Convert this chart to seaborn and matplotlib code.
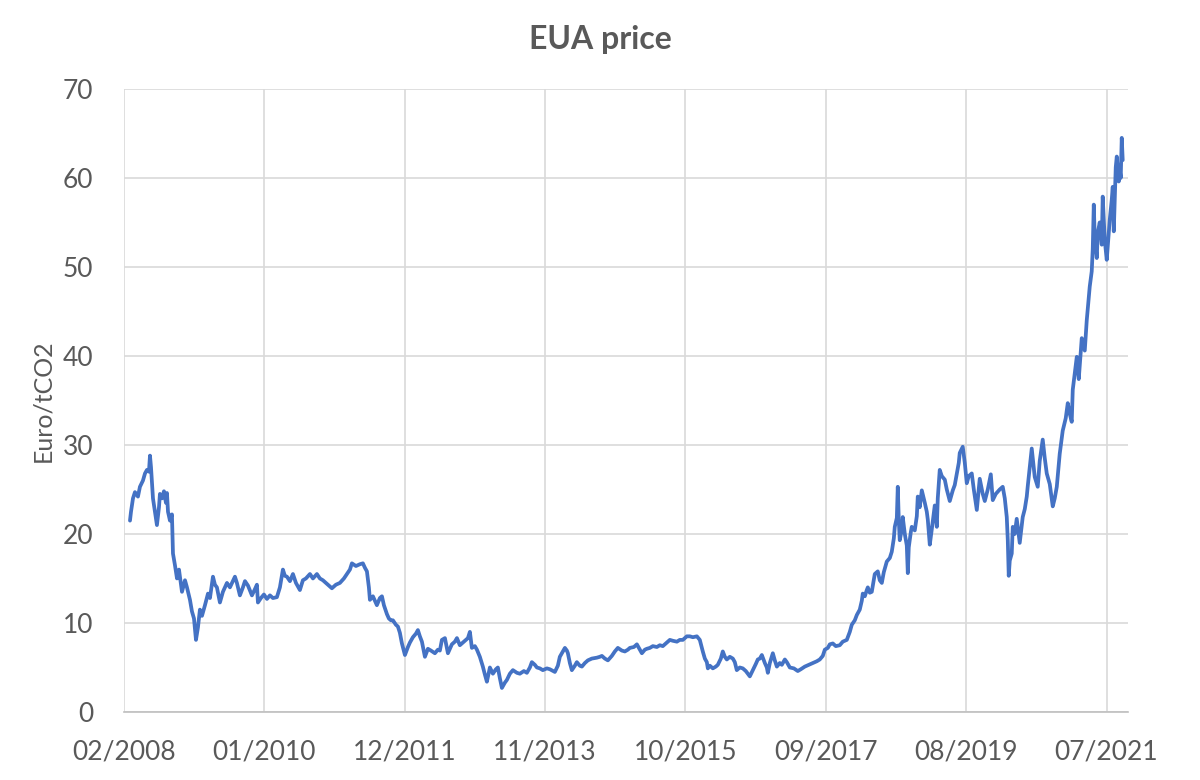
import pandas as pd
import matplotlib.pyplot as plt
import matplotlib.dates as mdates
import numpy as np
import seaborn as sns

# EUA price readings (decimal year, Euro/tCO2)
years_2008_2011 = [
    2008.167, 2008.181, 2008.208, 2008.235, 2008.276, 2008.303, 2008.344, 2008.372, 2008.399, 2008.426,
    2008.440, 2008.454, 2008.481, 2008.508, 2008.535, 2008.563, 2008.576, 2008.604, 2008.631, 2008.658,
    2008.672, 2008.686, 2008.713, 2008.740, 2008.754, 2008.781, 2008.809, 2008.836, 2008.877, 2008.918,
    2008.945, 2008.986, 2009.013, 2009.041, 2009.068, 2009.095, 2009.122, 2009.150, 2009.191, 2009.232,
    2009.259, 2009.300, 2009.327, 2009.354, 2009.395, 2009.436, 2009.491, 2009.532, 2009.600, 2009.627,
    2009.668, 2009.709, 2009.737, 2009.778, 2009.832, 2009.873, 2009.900, 2009.914, 2009.955, 2009.996,
    2010.037, 2010.078, 2010.119, 2010.173, 2010.214, 2010.255, 2010.282, 2010.310, 2010.351, 2010.392,
    2010.433, 2010.487, 2010.528, 2010.569, 2010.624, 2010.665, 2010.719, 2010.760, 2010.801, 2010.842,
    2010.883, 2010.924, 2010.979, 2011.033, 2011.088, 2011.129, 2011.170, 2011.197, 2011.252, 2011.306,
    2011.347, 2011.375, 2011.402, 2011.429, 2011.443, 2011.484, 2011.538, 2011.579, 2011.607, 2011.634,
    2011.675, 2011.702, 2011.730, 2011.757, 2011.798, 2011.825, 2011.852, 2011.880, 2011.921, 2011.962,
    2011.989,
]
prices_2008_2011 = [
    21.5, 22.5, 24.0, 24.7, 24.2, 25.3, 26.0, 26.8, 27.2, 27.0,
    28.8, 27.5, 24.0, 22.5, 21.0, 23.0, 24.5, 24.0, 24.8, 23.5,
    24.6, 22.5, 21.5, 22.2, 17.8, 16.5, 15.0, 16.0, 13.5, 14.8,
    14.0, 12.6, 11.3, 10.5, 8.1, 9.5, 11.5, 10.8, 12.0, 13.3,
    12.8, 15.2, 14.3, 14.0, 12.3, 13.5, 14.5, 14.0, 15.2, 14.5,
    13.1, 14.0, 14.7, 14.2, 13.1, 13.8, 14.3, 12.3, 12.8, 13.2,
    12.7, 13.1, 12.8, 12.9, 14.0, 16.0, 15.3, 15.2, 14.7, 15.5,
    14.5, 13.7, 14.8, 15.0, 15.5, 15.0, 15.5, 15.0, 14.8, 14.5,
    14.2, 13.9, 14.3, 14.5, 15.0, 15.5, 16.0, 16.7, 16.4, 16.6,
    16.7, 16.2, 15.8, 14.0, 12.6, 13.0, 12.0, 12.8, 13.0, 12.0,
    11.0, 10.5, 10.3, 10.3, 9.8, 9.6, 8.9, 7.7, 6.4, 7.3,
    7.8,
]

years_2012_2015 = [
    2012.030, 2012.071, 2012.098, 2012.125, 2012.153, 2012.194, 2012.235, 2012.276, 2012.330, 2012.371,
    2012.398, 2012.426, 2012.467, 2012.508, 2012.562, 2012.603, 2012.631, 2012.671, 2012.712, 2012.740,
    2012.781, 2012.808, 2012.835, 2012.876, 2012.904, 2012.944, 2012.985, 2013.013, 2013.040, 2013.081,
    2013.122, 2013.163, 2013.190, 2013.217, 2013.245, 2013.286, 2013.313, 2013.354, 2013.395, 2013.450,
    2013.490, 2013.545, 2013.586, 2013.627, 2013.654, 2013.695, 2013.723, 2013.763, 2013.804, 2013.859,
    2013.900, 2013.968, 2014.009, 2014.036, 2014.077, 2014.105, 2014.132, 2014.146, 2014.173, 2014.200,
    2014.241, 2014.268, 2014.309, 2014.337, 2014.378, 2014.419, 2014.473, 2014.541, 2014.582, 2014.610,
    2014.651, 2014.692, 2014.746, 2014.787, 2014.828, 2014.883, 2014.924, 2014.965, 2014.992, 2015.047,
    2015.088, 2015.128, 2015.156, 2015.197, 2015.224, 2015.265, 2015.306, 2015.361, 2015.401, 2015.442,
    2015.497, 2015.538, 2015.579, 2015.634, 2015.674, 2015.715, 2015.770, 2015.811, 2015.852, 2015.907,
    2015.947, 2015.988,
]
prices_2012_2015 = [
    8.4, 8.8, 9.2, 8.5, 7.9, 6.2, 7.1, 6.9, 6.6, 7.0,
    6.9, 8.1, 8.3, 6.6, 7.6, 7.9, 8.3, 7.5, 7.8, 8.0,
    8.3, 9.0, 7.2, 7.4, 7.0, 6.2, 5.1, 4.2, 3.4, 5.0,
    4.3, 4.8, 5.0, 3.8, 2.7, 3.3, 3.6, 4.3, 4.7, 4.4,
    4.3, 4.6, 4.4, 5.0, 5.6, 5.3, 5.0, 4.9, 4.7, 4.9,
    4.8, 4.5, 5.2, 6.2, 6.8, 7.2, 6.9, 6.6, 5.5, 4.7,
    5.2, 5.6, 5.2, 5.1, 5.5, 5.8, 6.0, 6.1, 6.2, 6.3,
    6.0, 5.8, 6.3, 6.8, 7.2, 6.9, 6.8, 7.0, 7.2, 7.3,
    7.6, 7.0, 6.6, 7.0, 7.1, 7.2, 7.4, 7.3, 7.5, 7.4,
    7.8, 8.1, 8.0, 7.9, 8.1, 8.1, 8.5, 8.5, 8.4, 8.5,
    8.1, 6.8,
]

years_2016_2018 = [
    2016.016, 2016.043, 2016.057, 2016.084, 2016.125, 2016.166, 2016.193, 2016.234, 2016.261, 2016.289,
    2016.316, 2016.357, 2016.398, 2016.425, 2016.452, 2016.493, 2016.534, 2016.575, 2016.603, 2016.630,
    2016.671, 2016.712, 2016.739, 2016.766, 2016.794, 2016.835, 2016.862, 2016.876, 2016.903, 2016.944,
    2016.971, 2016.999, 2017.039, 2017.067, 2017.108, 2017.135, 2017.176, 2017.231, 2017.285, 2017.326,
    2017.381, 2017.435, 2017.490, 2017.545, 2017.585, 2017.626, 2017.654, 2017.695, 2017.722, 2017.763,
    2017.804, 2017.858, 2017.899, 2017.954, 2017.995, 2018.022, 2018.063, 2018.091, 2018.131, 2018.159,
    2018.172, 2018.200, 2018.227, 2018.241, 2018.268, 2018.295, 2018.336, 2018.377, 2018.404, 2018.432,
    2018.459, 2018.500, 2018.541, 2018.568, 2018.596, 2018.609, 2018.637, 2018.650, 2018.664, 2018.677,
    2018.705, 2018.718, 2018.746, 2018.773, 2018.787, 2018.800, 2018.828, 2018.841, 2018.882, 2018.910,
    2018.923, 2018.950, 2018.978,
]
prices_2016_2018 = [
    6.0, 5.6, 4.9, 5.2, 4.9, 5.1, 5.3, 6.0, 6.8, 6.2,
    5.9, 6.2, 6.0, 5.6, 4.7, 5.0, 4.9, 4.6, 4.3, 4.0,
    4.7, 5.4, 5.9, 6.0, 6.4, 5.5, 5.0, 4.4, 5.5, 6.6,
    5.8, 5.1, 5.5, 5.3, 5.9, 5.6, 5.0, 4.9, 4.6, 4.8,
    5.1, 5.3, 5.5, 5.7, 5.9, 6.3, 7.0, 7.2, 7.6, 7.7,
    7.4, 7.5, 7.9, 8.1, 9.0, 9.8, 10.3, 10.9, 11.5, 12.5,
    13.3, 13.0, 13.7, 14.0, 13.4, 13.5, 15.5, 15.8, 14.8, 14.5,
    15.7, 16.9, 17.3, 18.0, 19.5, 20.8, 21.8, 25.3, 21.5, 19.3,
    20.5, 21.9, 20.0, 18.7, 15.6, 18.5, 20.2, 20.8, 20.4, 22.0,
    24.2, 23.0, 24.9,
]

years_2019_2021 = [
    2019.019, 2019.046, 2019.060, 2019.087, 2019.114, 2019.155, 2019.183, 2019.196, 2019.223, 2019.251,
    2019.292, 2019.319, 2019.360, 2019.401, 2019.428, 2019.456, 2019.483, 2019.496, 2019.537, 2019.565,
    2019.592, 2019.619, 2019.660, 2019.688, 2019.729, 2019.769, 2019.810, 2019.838, 2019.879, 2019.920,
    2019.947, 2019.988, 2020.042, 2020.083, 2020.111, 2020.138, 2020.152, 2020.165, 2020.179, 2020.206,
    2020.220, 2020.247, 2020.274, 2020.315, 2020.356, 2020.384, 2020.411, 2020.425, 2020.452, 2020.479,
    2020.520, 2020.561, 2020.588, 2020.629, 2020.657, 2020.684, 2020.725, 2020.766, 2020.793, 2020.821,
    2020.861, 2020.902, 2020.943, 2020.971, 2020.998, 2021.025, 2021.039, 2021.066, 2021.094, 2021.121,
    2021.162, 2021.203, 2021.230, 2021.271, 2021.298, 2021.312, 2021.326, 2021.339, 2021.367, 2021.380,
    2021.407, 2021.435, 2021.448, 2021.476, 2021.503, 2021.544, 2021.571, 2021.585, 2021.599, 2021.626,
    2021.640, 2021.667, 2021.680, 2021.694, 2021.708, 2021.721,
]
prices_2019_2021 = [
    23.5, 22.5, 21.6, 18.8, 20.5, 23.2, 20.8, 24.0, 27.2, 26.5,
    26.1, 25.0, 23.7, 24.9, 25.5, 26.8, 28.0, 29.1, 29.8, 28.0,
    25.7, 26.5, 26.8, 25.0, 22.7, 26.2, 24.5, 23.7, 25.0, 26.7,
    23.8, 24.5, 25.0, 25.3, 24.0, 21.9, 19.3, 15.3, 17.0, 17.8,
    20.8, 20.0, 21.7, 19.0, 21.9, 22.8, 24.2, 25.4, 27.5, 29.6,
    26.4, 25.3, 28.2, 30.6, 28.5, 26.8, 25.6, 23.1, 24.0, 25.3,
    29.0, 31.6, 33.0, 34.7, 33.5, 32.6, 36.2, 38.0, 39.9, 37.4,
    42.0, 40.6, 44.0, 47.8, 49.5, 52.0, 57.0, 53.4, 51.0, 53.8,
    55.0, 52.5, 57.9, 53.0, 50.8, 55.3, 57.5, 59.0, 54.0, 61.2,
    62.4, 59.6, 61.0, 60.0, 64.5, 62.0,
]

years = years_2008_2011 + years_2012_2015 + years_2016_2018 + years_2019_2021
prices = prices_2008_2011 + prices_2012_2015 + prices_2016_2018 + prices_2019_2021

start = pd.Timestamp('2008-01-01')
dates = start + pd.to_timedelta((np.array(years) - 2008) * 365.25, unit='D')
df = pd.DataFrame({'Date': dates, 'Price': prices})

sns.set_theme(style='whitegrid')
plt.rcParams['font.family'] = ['Lato', 'DejaVu Sans']

text_color = '#595959'
grid_color = '#d9d9d9'

fig = plt.figure(figsize=(12, 7.8), dpi=100)
ax = fig.add_axes([0.1033, 0.0872, 0.8367, 0.7988])

sns.lineplot(data=df, x='Date', y='Price', ax=ax, color='#4472c4',
             linewidth=2.7, estimator=None, sort=False)

# Excel-like date axis: one label every 700 days
axis_start = pd.Timestamp('2008-02-01')
ticks = [axis_start + pd.Timedelta(days=700 * k) for k in range(8)]
ax.set_xlim(axis_start, pd.Timestamp('2021-10-17'))
ax.set_xticks(ticks)
ax.xaxis.set_major_formatter(mdates.DateFormatter('%m/%Y'))

ax.set_ylim(0, 70)
ax.set_yticks(range(0, 71, 10))

ax.grid(True, color=grid_color, linewidth=1.2)
for side in ['top', 'right', 'left']:
    ax.spines[side].set_visible(False)
ax.spines['bottom'].set_color('#bfbfbf')
ax.spines['bottom'].set_linewidth(1.2)

ax.tick_params(axis='x', length=0, pad=20, labelsize=19, labelcolor=text_color)
ax.tick_params(axis='y', length=0, pad=22, labelsize=19, labelcolor=text_color)

ax.set_xlabel('')
ax.set_ylabel('Euro/tCO2', fontsize=18, color=text_color, labelpad=6)
fig.suptitle('EUA price', x=0.5, y=0.968, fontsize=23, fontweight='bold', color=text_color)

plt.savefig('out.png', dpi=100)
